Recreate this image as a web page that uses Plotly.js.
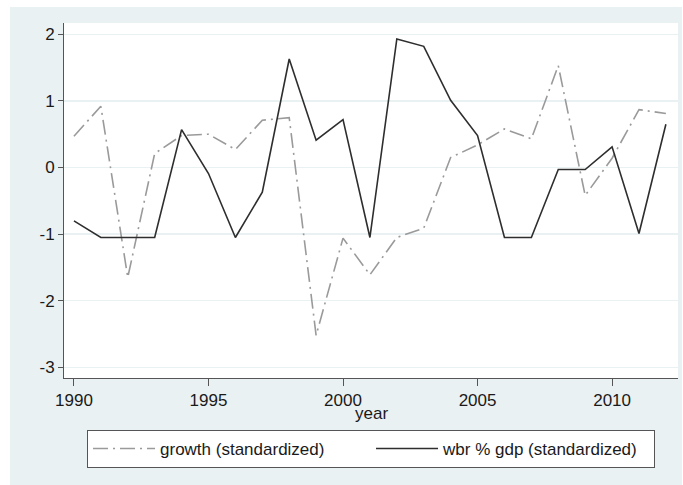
<!DOCTYPE html>
<html>
<head>
<meta charset="utf-8">
<script src="https://cdn.plot.ly/plotly-3.0.1.min.js"></script>
<style>
  html, body { margin: 0; padding: 0; background: #ffffff; }
  #wrap { position: relative; width: 683px; height: 485px; background: #ffffff; overflow: hidden; }
  #chart { position: absolute; left: 10px; top: 7px; width: 672px; height: 478px; }
</style>
</head>
<body>
<div id="wrap"><div id="chart"></div></div>
<script>
const years = [1990,1991,1992,1993,1994,1995,1996,1997,1998,1999,2000,2001,2002,2003,2004,2005,2006,2007,2008,2009,2010,2011,2012];
const growthStd = [0.47,0.92,-1.65,0.21,0.48,0.50,0.27,0.71,0.75,-2.52,-1.06,-1.61,-1.05,-0.91,0.15,0.34,0.58,0.43,1.53,-0.42,0.14,0.87,0.81];
const wbrStd = [-0.80,-1.05,-1.05,-1.05,0.57,-0.09,-1.05,-0.37,1.63,0.41,0.72,-1.05,1.93,1.82,1.01,0.48,-1.05,-1.05,-0.03,-0.03,0.31,-0.99,0.65];
const yTickVals = [-3,-2,-1,0,1,2];
const yTickText = ["-3","-2","-1","0","1","2"];
const xTickVals = [1990,1995,2000,2005,2010];
const seriesNames = ["growth (standardized)", "wbr % gdp (standardized)"];
const xTitle = "year";

const font = {family: "Liberation Sans, Arial, Helvetica, sans-serif", size: 17, color: "#1a1a1a"};

const traces = [
  {x: years, y: growthStd, type: "scatter", mode: "lines", name: seriesNames[0],
   line: {color: "#9a9a9a", width: 1.6, dash: "15px,5px,2px,5px"}},
  {x: years, y: wbrStd, type: "scatter", mode: "lines", name: seriesNames[1],
   line: {color: "#2e2e2e", width: 1.6}}
];

const layout = {
  width: 672, height: 478,
  paper_bgcolor: "#eaf1f3",
  plot_bgcolor: "#ffffff",
  margin: {l: 54, r: 4, t: 16, b: 107, pad: 0},
  font: font,
  showlegend: true,
  legend: {
    orientation: "h", x: 0.0375, xanchor: "left", y: -0.1465, yanchor: "top",
    bgcolor: "#ffffff", bordercolor: "#555555", borderwidth: 1,
    font: font, itemwidth: 62, entrywidth: 206, entrywidthmode: "pixels",
    traceorder: "normal"
  },
  annotations: [
    {text: xTitle, xref: "paper", yref: "paper", x: 0.5, y: -0.101,
     xanchor: "center", yanchor: "middle", showarrow: false, font: font}
  ],
  xaxis: {
    range: [1989.63, 2012.45], tickmode: "array", tickvals: xTickVals,
    ticks: "outside", ticklen: 7, tickcolor: "#555555", tickwidth: 1,
    showline: true, linecolor: "#555555", linewidth: 1,
    showgrid: false, zeroline: false,
    automargin: false
  },
  yaxis: {
    range: [-3.16, 2.17], tickmode: "array", tickvals: yTickVals, ticktext: yTickText,
    ticks: "outside", ticklen: 5, tickcolor: "#555555", tickwidth: 1,
    showline: true, linecolor: "#555555", linewidth: 1,
    showgrid: true, gridcolor: "#eaf1f3", gridwidth: 1.5, zeroline: false,
    automargin: false
  }
};

Plotly.newPlot("chart", traces, layout, {displayModeBar: false, staticPlot: true});
</script>
</body>
</html>
